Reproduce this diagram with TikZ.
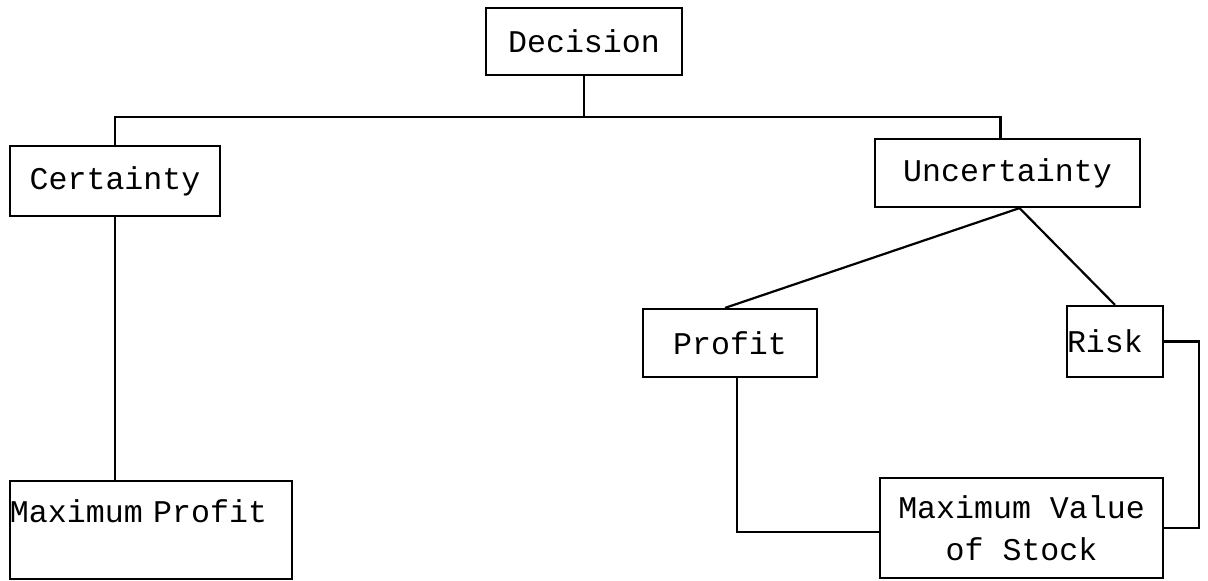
\documentclass[tikz,border=0pt]{standalone}
\usepackage{fontspec}
\setmainfont{Liberation Mono}

\begin{document}
\begin{tikzpicture}[%
    x=0.5pt, y=-0.5pt,          % one unit is one pixel of the scan
    line width=1.1pt,           % typed chart, plain strokes
    ]
% -------------------------------------------------
% Box and line styles
\tikzset{
  base/.style={draw, rectangle, align=center, inner sep=0pt,
    font=\fontsize{15.8}{21}\selectfont},
  proc/.style={base},
  flush/.style={base, align=left},
  link/.style={draw}
}
\useasboundingbox (0,0) rectangle (1208,580);
% -------------------------------------------------
% Start by placing the boxes
\node [proc, minimum width=98pt, minimum height=33.5pt] (dec) at (584,41.5) {Decision};
\node [proc, minimum width=105pt, minimum height=35pt] (cert) at (115,181) {Certainty};
\node [proc, minimum width=132.5pt, minimum height=34pt] (unc) at (1007.5,173) {Uncertainty};
\node [proc, minimum width=87pt, minimum height=34pt] (profit) at (730,343) {Profit};
\node [flush, text width=48pt, minimum height=35.5pt] (risk) at (1115,341.5) {Risk};
\node [flush, text width=141pt, text height=20.5pt, text depth=28.5pt]
  (mprofit) at (151,530) {Maximum Profit};
\node [proc, minimum width=141.5pt, minimum height=50pt]
  (mvalue) at (1021.5,528) {Maximum Value\\of Stock};

% Connect the boxes
\coordinate (split) at (584,117);
\draw [link] (dec.south) -- (split);
\draw [link] (cert.north) |- (split) -| ([xshift=-3.5pt]unc.north);
\draw [link] (cert.south) -- (cert.south |- mprofit.north);
\draw [link] ([xshift=6pt]unc.south) -- ([xshift=-2.5pt]profit.north);
\draw [link] ([xshift=6pt]unc.south) -- (risk.north);
\draw [link] ([xshift=3.5pt]profit.south) |- ([yshift=-2pt]mvalue.west);
\draw [link] (risk.east) -- ++(17.5pt,0) |- (mvalue.east);

% -------------------------------------------------
\end{tikzpicture}
\end{document}
